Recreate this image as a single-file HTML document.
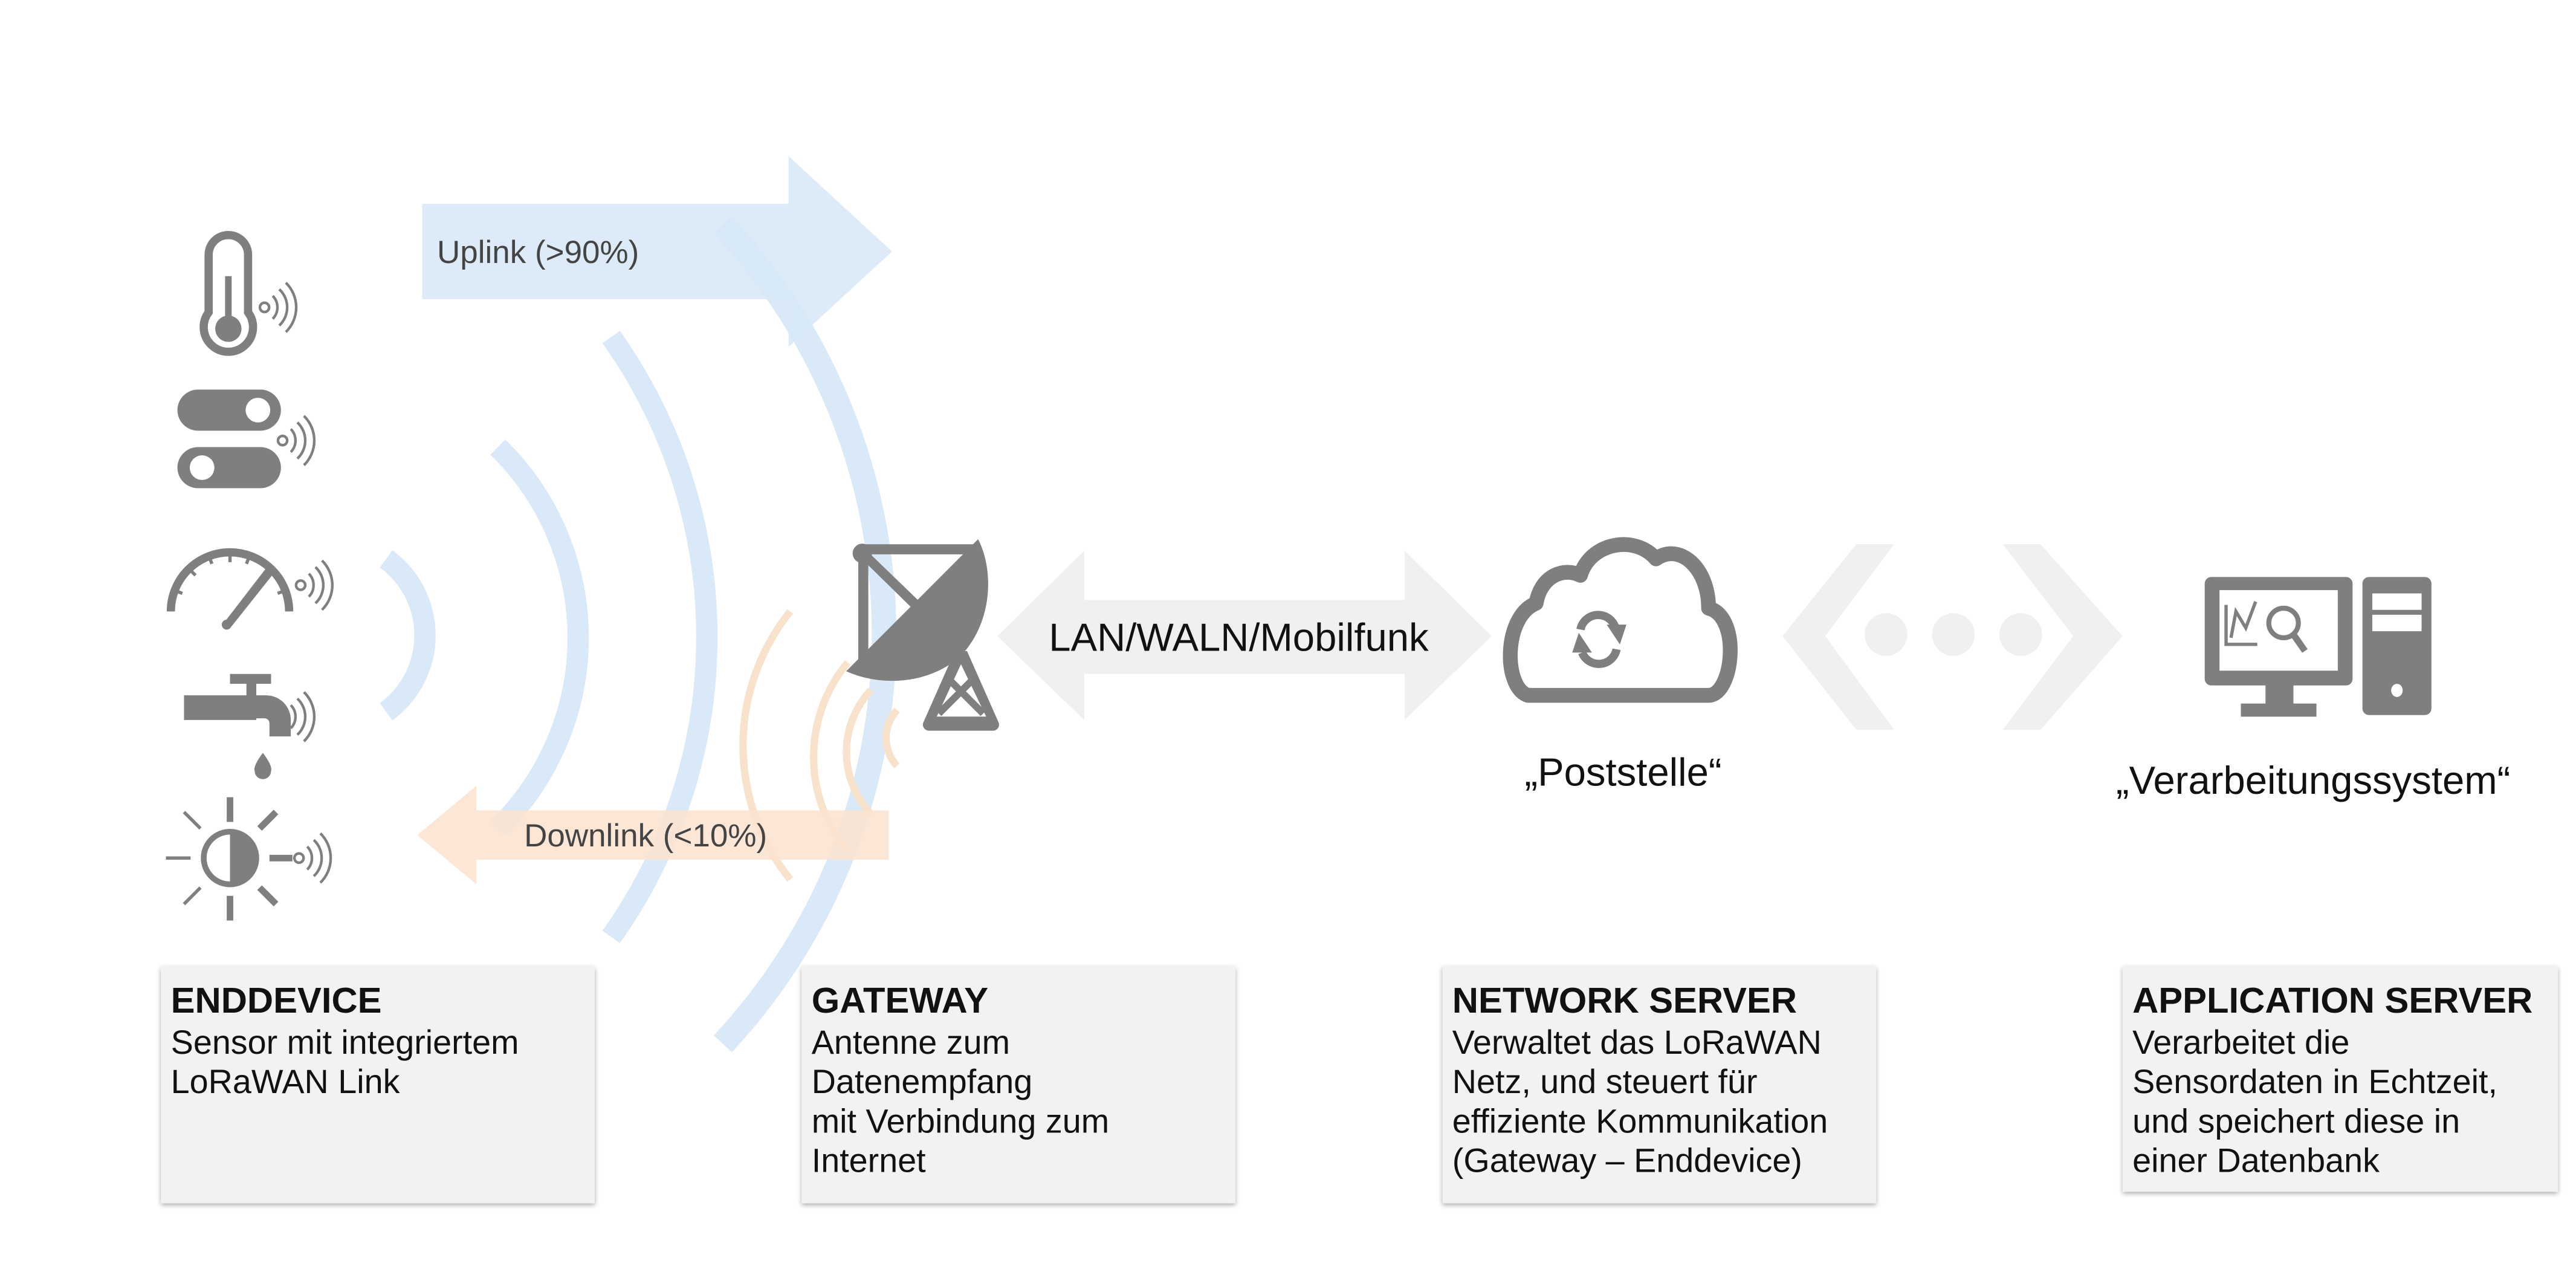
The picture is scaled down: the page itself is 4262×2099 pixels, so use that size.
<!DOCTYPE html>
<html><head><meta charset="utf-8"><style>
html,body{margin:0;padding:0;background:#fff;}
svg{display:block;}
text{font-family:"Liberation Sans",sans-serif;}
</style></head><body>
<svg width="4262" height="2099" viewBox="0 0 1568 772" preserveAspectRatio="none" xmlns="http://www.w3.org/2000/svg">
<defs>
<filter id="sh" x="-5%" y="-5%" width="110%" height="115%"><feDropShadow dx="0" dy="1" stdDeviation="1.5" flood-color="#000" flood-opacity="0.35"/></filter>
</defs>
<rect width="1568" height="772" fill="#fff"/>

<!-- blue arcs -->
<g fill="none" stroke="#d6e7f6" stroke-opacity="0.9" stroke-width="13">
<path d="M235 340 A57.5 57.5 0 0 1 235 433"/>
<path d="M303 272 A162 162 0 0 1 303 504"/>
<path d="M372 205 A315 315 0 0 1 372 570"/>
<path d="M440 137 A365 365 0 0 1 440 635" stroke-width="15"/>
</g>
<!-- orange arcs -->
<g fill="none" stroke="#f9e2cc" stroke-width="4.5">
<path d="M481 372 A130 130 0 0 0 481 535"/>
<path d="M516 403 A90 90 0 0 0 516 518"/>
<path d="M530 420 A55 55 0 0 0 530 495"/>
<path d="M546 432 A25 25 0 0 0 546 466"/>
</g>

<!-- uplink arrow -->
<path d="M257 124 L480 124 L480 95 L543 153 L480 211 L480 182 L257 182 Z" fill="#d6e7f6" fill-opacity="0.85"/>
<text x="266" y="160" font-size="19.5" fill="#444">Uplink (&gt;90%)</text>
<!-- downlink arrow -->
<path d="M541 493 L290 493 L290 478 L254 508 L290 538 L290 523 L541 523 Z" fill="#fbe3cf" fill-opacity="0.85"/>
<text x="319" y="515" font-size="19.5" fill="#444">Downlink (&lt;10%)</text>

<!-- left icons -->
<g fill="#7f7f7f" stroke="none">
<!-- thermometer -->
<path d="M127 190 V155 a12 12 0 0 1 24 0 V190 a15 15 0 1 1 -24 0 z" fill="none" stroke="#7f7f7f" stroke-width="5"/>
<rect x="137" y="168" width="4" height="25"/>
<circle cx="139" cy="200" r="8"/>
<!-- toggles -->
<rect x="108" y="237" width="63" height="25" rx="12.5"/>
<circle cx="157" cy="249.5" r="7.5" fill="#fff"/>
<rect x="108" y="272" width="63" height="25" rx="12.5"/>
<circle cx="123" cy="284.5" r="7.5" fill="#fff"/>
<!-- gauge -->
<path d="M104 372 A36 36 0 0 1 176 372" fill="none" stroke="#7f7f7f" stroke-width="5"/>
<g stroke="#7f7f7f" stroke-width="2"><line x1="140" y1="336" x2="140" y2="342"/><line x1="115" y1="346" x2="119" y2="350"/><line x1="106" y1="359" x2="111" y2="361"/><line x1="127" y1="338" x2="129" y2="343"/><line x1="152" y1="338" x2="150" y2="343"/><line x1="174" y1="359" x2="169" y2="361"/></g>
<path d="M137 378 L164 343 L168 347 L141 381 Z"/>
<circle cx="138" cy="380" r="3"/>
<!-- tap -->
<rect x="140" y="410" width="25" height="6"/>
<rect x="150" y="413" width="6" height="12"/>
<rect x="112" y="423" width="44" height="15"/>
<path d="M150 423 h12 a15 15 0 0 1 15 15 v10 h-13 v-8 a3 3 0 0 0 -3 -3 h-11 z"/>
<path d="M160 458 q-6 8 -5 11 a5 5 0 0 0 10 0 q1 -3 -5 -11z"/>
<!-- sun -->
<circle cx="140" cy="522" r="16" fill="#fff" stroke="#7f7f7f" stroke-width="3.5"/>
<path d="M140 506 a16 16 0 0 1 0 32 z"/>
<g stroke="#7f7f7f" stroke-width="4">
<line x1="140" y1="485" x2="140" y2="500"/><line x1="140" y1="545" x2="140" y2="560"/>
<line x1="101" y1="522" x2="116" y2="522" stroke-width="2"/><line x1="164" y1="522" x2="178" y2="522"/>
<line x1="112" y1="494" x2="122" y2="504" stroke-width="2"/><line x1="158" y1="540" x2="168" y2="550"/>
<line x1="168" y1="494" x2="158" y2="504"/><line x1="112" y1="550" x2="122" y2="540" stroke-width="2"/>
</g>
</g>
<!-- wifi signals -->
<g fill="none" stroke="#7f7f7f" stroke-width="1.6">
<g transform="translate(161,187)"><circle r="2.8"/><path d="M5 -7 a10 10 0 0 1 0 14 M9 -11 a15 15 0 0 1 0 22 M13 -15 a21 21 0 0 1 0 30"/></g>
<g transform="translate(172,268)"><circle r="2.8"/><path d="M5 -7 a10 10 0 0 1 0 14 M9 -11 a15 15 0 0 1 0 22 M13 -15 a21 21 0 0 1 0 30"/></g>
<g transform="translate(183,356)"><circle r="2.8"/><path d="M5 -7 a10 10 0 0 1 0 14 M9 -11 a15 15 0 0 1 0 22 M13 -15 a21 21 0 0 1 0 30"/></g>
<g transform="translate(172,436)"><circle r="2.8"/><path d="M5 -7 a10 10 0 0 1 0 14 M9 -11 a15 15 0 0 1 0 22 M13 -15 a21 21 0 0 1 0 30"/></g>
<g transform="translate(182,522)"><circle r="2.8"/><path d="M5 -7 a10 10 0 0 1 0 14 M9 -11 a15 15 0 0 1 0 22 M13 -15 a21 21 0 0 1 0 30"/></g>
</g>

<!-- gateway dish -->
<g transform="translate(507.7,316.4) scale(0.1226)" fill="#7f7f7f">
<rect x="120" y="120" width="580" height="50"/>
<rect x="120" y="145" width="50" height="560"/>
<circle cx="140" cy="165" r="48"/>
<path d="M150 140 L420 400 L385 435 L120 175 Z"/>
<path d="M60 750 L715 95 C790 240 790 480 650 650 C520 800 260 840 60 750 Z"/>
<path d="M600 650 L660 650 L815 1000 A30 30 0 0 1 790 1045 L470 1045 A30 30 0 0 1 445 1000 Z"/>
<path d="M630 715 L755 975 L510 975 Z" fill="#fff"/>
<path d="M580 800 L740 960 M680 800 L520 960" stroke="#7f7f7f" stroke-width="35" fill="none"/>
</g>

<!-- LAN arrow -->
<path d="M607 387 L660 335 L660 365 L855 365 L855 335 L908 387 L855 438 L855 410 L660 410 L660 438 Z" fill="#f0f0f0"/>
<text x="754" y="396" font-size="24" text-anchor="middle" fill="#111">LAN/WALN/Mobilfunk</text>

<!-- cloud -->
<path d="M930 423 C915 418 915 375 935 367 C938 350 952 345 962 350 C968 330 995 325 1008 340 C1022 330 1040 345 1040 370 C1060 375 1055 423 1040 423 Z" fill="none" stroke="#7f7f7f" stroke-width="9" stroke-linejoin="round"/>
<g fill="none" stroke="#7f7f7f" stroke-width="5">
<path d="M962 383 A11 11 0 0 1 983 381"/>
<path d="M984 395 A11 11 0 0 1 963 397"/>
</g>
<path d="M978 380 L990 380 L986 392 Z" fill="#7f7f7f"/>
<path d="M957 397 L969 397 L961 385 Z" fill="#7f7f7f"/>

<!-- chevrons & dots -->
<g fill="#f0f0f0">
<path d="M1130 331 L1153 331 L1111 387 L1153 444 L1130 444 L1085 387 Z"/>
<path d="M1242 331 L1219 331 L1262 387 L1219 444 L1242 444 L1292 387 Z"/>
<ellipse cx="1148" cy="386" rx="13" ry="13"/>
<ellipse cx="1189" cy="386" rx="13" ry="13"/>
<ellipse cx="1230" cy="386" rx="13" ry="13"/>
</g>

<!-- computer -->
<g fill="#7f7f7f">
<rect x="1342" y="351" width="90" height="66" rx="4"/>
<rect x="1351" y="359" width="72" height="49" fill="#fff"/>
<rect x="1379" y="416" width="17" height="14"/>
<rect x="1364" y="428" width="46" height="8"/>
<rect x="1438" y="351" width="42" height="84" rx="4"/>
<rect x="1444" y="361" width="30" height="10" fill="#fff"/>
<rect x="1444" y="374" width="30" height="10" fill="#fff"/>
<ellipse cx="1459" cy="420" rx="3.5" ry="4" fill="#fff"/>
<path d="M1355 368 V392 H1374" fill="none" stroke="#7f7f7f" stroke-width="2"/>
<path d="M1358 388 L1361 372 L1367 382 L1373 366" fill="none" stroke="#7f7f7f" stroke-width="2"/>
<circle cx="1390" cy="379" r="9" fill="none" stroke="#7f7f7f" stroke-width="3"/>
<path d="M1396 386 L1403 396" stroke="#7f7f7f" stroke-width="4"/>
</g>

<text x="988" y="478" font-size="24" text-anchor="middle" fill="#111">„Poststelle“</text>
<text x="1408" y="483" font-size="24" text-anchor="middle" fill="#111">„Verarbeitungssystem“</text>

<!-- boxes -->
<g fill="#f2f2f2" filter="url(#sh)">
<rect x="98" y="588" width="264" height="144"/>
<rect x="488" y="588" width="264" height="144"/>
<rect x="878" y="588" width="264" height="144"/>
<rect x="1292" y="588" width="265" height="137"/>
</g>
<g font-size="20.5" fill="#111">
<text x="104" y="616" font-weight="bold" font-size="22">ENDDEVICE</text>
<text x="104" y="641">Sensor mit integriertem</text>
<text x="104" y="665">LoRaWAN Link</text>

<text x="494" y="616" font-weight="bold" font-size="22">GATEWAY</text>
<text x="494" y="641">Antenne zum</text>
<text x="494" y="665">Datenempfang</text>
<text x="494" y="689">mit Verbindung zum</text>
<text x="494" y="713">Internet</text>

<text x="884" y="616" font-weight="bold" font-size="22">NETWORK SERVER</text>
<text x="884" y="641">Verwaltet das LoRaWAN</text>
<text x="884" y="665">Netz, und steuert für</text>
<text x="884" y="689">effiziente Kommunikation</text>
<text x="884" y="713">(Gateway – Enddevice)</text>

<text x="1298" y="616" font-weight="bold" font-size="22">APPLICATION SERVER</text>
<text x="1298" y="641">Verarbeitet die</text>
<text x="1298" y="665">Sensordaten in Echtzeit,</text>
<text x="1298" y="689">und speichert diese in</text>
<text x="1298" y="713">einer Datenbank</text>
</g>
</svg>
</body></html>
